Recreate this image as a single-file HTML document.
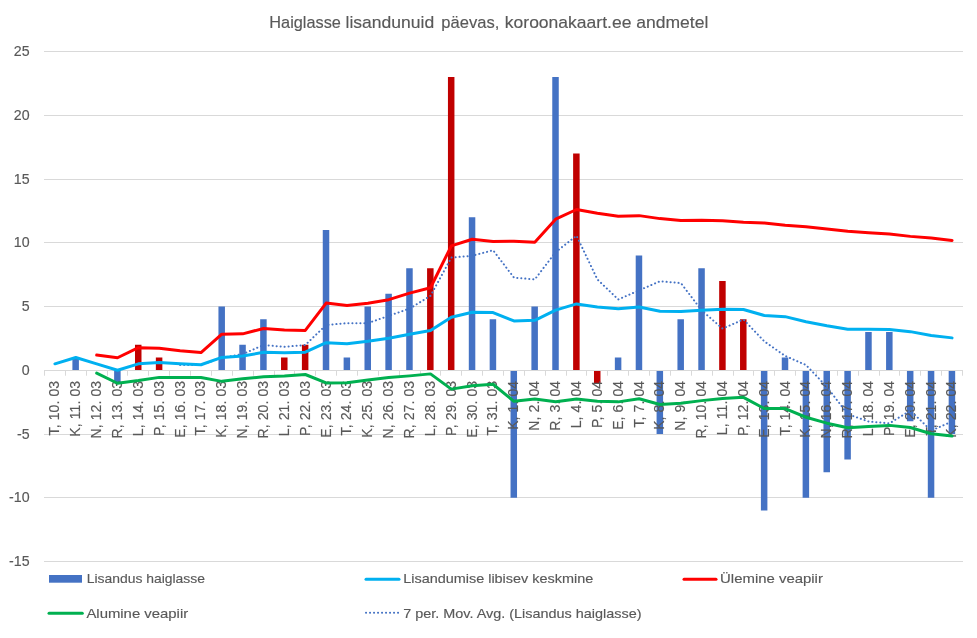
<!DOCTYPE html>
<html lang="et"><head><meta charset="utf-8"><title>Haiglasse lisandunuid päevas</title>
<style>html,body{margin:0;padding:0;background:#fff}body{width:977px;height:638px;overflow:hidden}</style></head>
<body>
<svg width="977" height="638" viewBox="0 0 977 638" style="display:block">
<rect x="0" y="0" width="977" height="638" fill="#ffffff"/>
<g fill="#D9D9D9">
<rect x="44" y="51" width="919" height="1"/>
<rect x="44" y="115" width="919" height="1"/>
<rect x="44" y="179" width="919" height="1"/>
<rect x="44" y="242" width="919" height="1"/>
<rect x="44" y="306" width="919" height="1"/>
<rect x="44" y="434" width="919" height="1"/>
<rect x="44" y="497" width="919" height="1"/>
<rect x="44" y="561" width="919" height="1"/>
</g>
<g>
<rect x="72.40" y="357.50" width="6.5" height="12.50" fill="#4472C4"/>
<rect x="114.12" y="371.00" width="6.5" height="12.00" fill="#4472C4"/>
<rect x="134.99" y="344.75" width="6.5" height="25.25" fill="#C00000"/>
<rect x="155.85" y="357.50" width="6.5" height="12.50" fill="#C00000"/>
<rect x="218.44" y="306.50" width="6.5" height="63.50" fill="#4472C4"/>
<rect x="239.30" y="344.75" width="6.5" height="25.25" fill="#4472C4"/>
<rect x="260.17" y="319.25" width="6.5" height="50.75" fill="#4472C4"/>
<rect x="281.03" y="357.50" width="6.5" height="12.50" fill="#C00000"/>
<rect x="301.90" y="344.75" width="6.5" height="25.25" fill="#C00000"/>
<rect x="322.76" y="230.00" width="6.5" height="140.00" fill="#4472C4"/>
<rect x="343.62" y="357.50" width="6.5" height="12.50" fill="#4472C4"/>
<rect x="364.49" y="306.50" width="6.5" height="63.50" fill="#4472C4"/>
<rect x="385.35" y="293.75" width="6.5" height="76.25" fill="#4472C4"/>
<rect x="406.21" y="268.25" width="6.5" height="101.75" fill="#4472C4"/>
<rect x="427.08" y="268.25" width="6.5" height="101.75" fill="#C00000"/>
<rect x="447.94" y="77.00" width="6.5" height="293.00" fill="#C00000"/>
<rect x="468.80" y="217.25" width="6.5" height="152.75" fill="#4472C4"/>
<rect x="489.67" y="319.25" width="6.5" height="50.75" fill="#4472C4"/>
<rect x="510.53" y="371.00" width="6.5" height="126.75" fill="#4472C4"/>
<rect x="531.40" y="306.50" width="6.5" height="63.50" fill="#4472C4"/>
<rect x="552.26" y="77.00" width="6.5" height="293.00" fill="#4472C4"/>
<rect x="573.12" y="153.50" width="6.5" height="216.50" fill="#C00000"/>
<rect x="593.99" y="371.00" width="6.5" height="12.00" fill="#C00000"/>
<rect x="614.85" y="357.50" width="6.5" height="12.50" fill="#4472C4"/>
<rect x="635.71" y="255.50" width="6.5" height="114.50" fill="#4472C4"/>
<rect x="656.58" y="371.00" width="6.5" height="63.00" fill="#4472C4"/>
<rect x="677.44" y="319.25" width="6.5" height="50.75" fill="#4472C4"/>
<rect x="698.30" y="268.25" width="6.5" height="101.75" fill="#4472C4"/>
<rect x="719.17" y="281.00" width="6.5" height="89.00" fill="#C00000"/>
<rect x="740.03" y="319.25" width="6.5" height="50.75" fill="#C00000"/>
<rect x="760.90" y="371.00" width="6.5" height="139.50" fill="#4472C4"/>
<rect x="781.76" y="357.50" width="6.5" height="12.50" fill="#4472C4"/>
<rect x="802.62" y="371.00" width="6.5" height="126.75" fill="#4472C4"/>
<rect x="823.49" y="371.00" width="6.5" height="101.25" fill="#4472C4"/>
<rect x="844.35" y="371.00" width="6.5" height="88.50" fill="#4472C4"/>
<rect x="865.21" y="332.00" width="6.5" height="38.00" fill="#4472C4"/>
<rect x="886.08" y="332.00" width="6.5" height="38.00" fill="#4472C4"/>
<rect x="906.94" y="371.00" width="6.5" height="50.25" fill="#4472C4"/>
<rect x="927.80" y="371.00" width="6.5" height="126.75" fill="#4472C4"/>
<rect x="948.67" y="371.00" width="6.5" height="63.00" fill="#4472C4"/>
</g>
<g fill="#D9D9D9">
<rect x="44" y="370" width="919" height="1"/>
<rect x="44" y="370" width="1" height="5.7"/>
<rect x="65" y="370" width="1" height="5.7"/>
<rect x="86" y="370" width="1" height="5.7"/>
<rect x="107" y="370" width="1" height="5.7"/>
<rect x="127" y="370" width="1" height="5.7"/>
<rect x="148" y="370" width="1" height="5.7"/>
<rect x="169" y="370" width="1" height="5.7"/>
<rect x="190" y="370" width="1" height="5.7"/>
<rect x="211" y="370" width="1" height="5.7"/>
<rect x="232" y="370" width="1" height="5.7"/>
<rect x="253" y="370" width="1" height="5.7"/>
<rect x="274" y="370" width="1" height="5.7"/>
<rect x="294" y="370" width="1" height="5.7"/>
<rect x="315" y="370" width="1" height="5.7"/>
<rect x="336" y="370" width="1" height="5.7"/>
<rect x="357" y="370" width="1" height="5.7"/>
<rect x="378" y="370" width="1" height="5.7"/>
<rect x="399" y="370" width="1" height="5.7"/>
<rect x="420" y="370" width="1" height="5.7"/>
<rect x="440" y="370" width="1" height="5.7"/>
<rect x="461" y="370" width="1" height="5.7"/>
<rect x="482" y="370" width="1" height="5.7"/>
<rect x="503" y="370" width="1" height="5.7"/>
<rect x="524" y="370" width="1" height="5.7"/>
<rect x="545" y="370" width="1" height="5.7"/>
<rect x="566" y="370" width="1" height="5.7"/>
<rect x="586" y="370" width="1" height="5.7"/>
<rect x="607" y="370" width="1" height="5.7"/>
<rect x="628" y="370" width="1" height="5.7"/>
<rect x="649" y="370" width="1" height="5.7"/>
<rect x="670" y="370" width="1" height="5.7"/>
<rect x="691" y="370" width="1" height="5.7"/>
<rect x="712" y="370" width="1" height="5.7"/>
<rect x="733" y="370" width="1" height="5.7"/>
<rect x="753" y="370" width="1" height="5.7"/>
<rect x="774" y="370" width="1" height="5.7"/>
<rect x="795" y="370" width="1" height="5.7"/>
<rect x="816" y="370" width="1" height="5.7"/>
<rect x="837" y="370" width="1" height="5.7"/>
<rect x="858" y="370" width="1" height="5.7"/>
<rect x="879" y="370" width="1" height="5.7"/>
<rect x="899" y="370" width="1" height="5.7"/>
<rect x="920" y="370" width="1" height="5.7"/>
<rect x="941" y="370" width="1" height="5.7"/>
<rect x="962" y="370" width="1" height="5.7"/>
</g>
<g font-family="Liberation Sans, sans-serif" font-size="14.2" fill="#595959" stroke="#595959" stroke-width="0.15" text-anchor="end">
<text x="29.6" y="56.3">25</text>
<text x="29.6" y="120.3">20</text>
<text x="29.6" y="184.3">15</text>
<text x="29.6" y="247.3">10</text>
<text x="29.6" y="311.3">5</text>
<text x="29.6" y="375.3">0</text>
<text x="29.6" y="439.3">-5</text>
<text x="29.6" y="502.3">-10</text>
<text x="29.6" y="566.3">-15</text>
</g>
<g font-family="Liberation Sans, sans-serif" font-size="14" fill="#595959" stroke="#595959" stroke-width="0.15" text-anchor="end" letter-spacing="0.1">
<text transform="translate(59.33 380.8) rotate(-90)">T, 10. 03</text>
<text transform="translate(80.20 380.8) rotate(-90)">K, 11. 03</text>
<text transform="translate(101.06 380.8) rotate(-90)">N, 12. 03</text>
<text transform="translate(121.92 380.8) rotate(-90)">R, 13. 03</text>
<text transform="translate(142.79 380.8) rotate(-90)">L, 14. 03</text>
<text transform="translate(163.65 380.8) rotate(-90)">P, 15. 03</text>
<text transform="translate(184.51 380.8) rotate(-90)">E, 16. 03</text>
<text transform="translate(205.38 380.8) rotate(-90)">T, 17. 03</text>
<text transform="translate(226.24 380.8) rotate(-90)">K, 18. 03</text>
<text transform="translate(247.10 380.8) rotate(-90)">N, 19. 03</text>
<text transform="translate(267.97 380.8) rotate(-90)">R, 20. 03</text>
<text transform="translate(288.83 380.8) rotate(-90)">L, 21. 03</text>
<text transform="translate(309.70 380.8) rotate(-90)">P, 22. 03</text>
<text transform="translate(330.56 380.8) rotate(-90)">E, 23. 03</text>
<text transform="translate(351.42 380.8) rotate(-90)">T, 24. 03</text>
<text transform="translate(372.29 380.8) rotate(-90)">K, 25. 03</text>
<text transform="translate(393.15 380.8) rotate(-90)">N, 26. 03</text>
<text transform="translate(414.01 380.8) rotate(-90)">R, 27. 03</text>
<text transform="translate(434.88 380.8) rotate(-90)">L, 28. 03</text>
<text transform="translate(455.74 380.8) rotate(-90)">P, 29. 03</text>
<text transform="translate(476.60 380.8) rotate(-90)">E, 30. 03</text>
<text transform="translate(497.47 380.8) rotate(-90)">T, 31. 03</text>
<text transform="translate(518.33 380.8) rotate(-90)">K, 1. 04</text>
<text transform="translate(539.20 380.8) rotate(-90)">N, 2. 04</text>
<text transform="translate(560.06 380.8) rotate(-90)">R, 3. 04</text>
<text transform="translate(580.92 380.8) rotate(-90)">L, 4. 04</text>
<text transform="translate(601.79 380.8) rotate(-90)">P, 5. 04</text>
<text transform="translate(622.65 380.8) rotate(-90)">E, 6. 04</text>
<text transform="translate(643.51 380.8) rotate(-90)">T, 7. 04</text>
<text transform="translate(664.38 380.8) rotate(-90)">K, 8. 04</text>
<text transform="translate(685.24 380.8) rotate(-90)">N, 9. 04</text>
<text transform="translate(706.10 380.8) rotate(-90)">R, 10. 04</text>
<text transform="translate(726.97 380.8) rotate(-90)">L, 11. 04</text>
<text transform="translate(747.83 380.8) rotate(-90)">P, 12. 04</text>
<text transform="translate(768.70 380.8) rotate(-90)">E, 13. 04</text>
<text transform="translate(789.56 380.8) rotate(-90)">T, 14. 04</text>
<text transform="translate(810.42 380.8) rotate(-90)">K, 15. 04</text>
<text transform="translate(831.29 380.8) rotate(-90)">N, 16. 04</text>
<text transform="translate(852.15 380.8) rotate(-90)">R, 17. 04</text>
<text transform="translate(873.01 380.8) rotate(-90)">L, 18. 04</text>
<text transform="translate(893.88 380.8) rotate(-90)">P, 19. 04</text>
<text transform="translate(914.74 380.8) rotate(-90)">E, 20. 04</text>
<text transform="translate(935.60 380.8) rotate(-90)">T, 21. 04</text>
<text transform="translate(956.47 380.8) rotate(-90)">K, 22. 04</text>
</g>
<g fill="none" stroke-linecap="round" stroke-linejoin="round">
<path d="M180.11 365.04 L200.98 365.04 L221.84 357.75 L242.70 354.11 L263.57 345.00 L284.43 346.82 L305.30 345.00 L326.16 324.96 L347.02 323.14 L367.89 323.14 L388.75 315.86 L409.61 308.57 L430.48 295.82 L451.34 257.57 L472.20 255.75 L493.07 250.29 L513.93 277.61 L534.80 279.43 L555.66 252.11 L576.52 235.71 L597.39 279.43 L618.25 299.46 L639.11 290.36 L659.98 281.25 L680.84 283.07 L701.70 310.39 L722.57 328.61 L743.43 319.50 L764.30 341.36 L785.16 355.93 L806.02 365.04 L826.89 386.89 L847.75 414.21 L868.61 421.50 L889.48 423.32 L910.34 410.57 L931.20 430.61 L952.07 421.50" stroke="#4472C4" stroke-width="2" stroke-dasharray="0.1 3.9"/>
<path d="M54.93 364.12 L75.80 357.75 L96.66 364.12 L117.52 370.50 L138.39 364.12 L159.25 362.85 L180.11 364.12 L200.98 365.04 L221.84 357.75 L242.70 356.33 L263.57 352.65 L284.43 353.11 L305.30 352.44 L326.16 343.04 L347.02 344.09 L367.89 341.60 L388.75 338.62 L409.61 334.50 L430.48 330.83 L451.34 317.49 L472.20 312.49 L493.07 312.82 L513.93 321.24 L534.80 320.61 L555.66 310.47 L576.52 304.20 L597.39 307.24 L618.25 309.11 L639.11 307.21 L659.98 311.59 L680.84 311.85 L701.70 310.45 L722.57 309.54 L743.43 309.84 L764.30 315.75 L785.16 316.95 L806.02 321.98 L826.89 326.05 L847.75 329.57 L868.61 329.63 L889.48 329.70 L910.34 331.94 L931.20 335.89 L952.07 338.18" stroke="#00B0F0" stroke-width="3" transform="translate(0 -0.3)"/>
<path d="M96.66 355.11 L117.52 357.75 L138.39 347.66 L159.25 348.31 L180.11 350.75 L200.98 352.59 L221.84 334.14 L242.70 333.84 L263.57 328.46 L284.43 330.11 L305.30 330.38 L326.16 303.11 L347.02 305.53 L367.89 303.21 L388.75 299.67 L409.61 293.13 L430.48 287.79 L451.34 245.83 L472.20 239.25 L493.07 241.42 L513.93 241.15 L534.80 242.30 L555.66 219.18 L576.52 209.50 L597.39 213.17 L618.25 216.35 L639.11 215.63 L659.98 218.61 L680.84 220.48 L701.70 220.28 L722.57 220.69 L743.43 222.37 L764.30 222.98 L785.16 225.28 L806.02 226.72 L826.89 228.92 L847.75 231.33 L868.61 232.70 L889.48 234.02 L910.34 236.38 L931.20 238.09 L952.07 240.39" stroke="#FF0000" stroke-width="3"/>
<path d="M96.66 373.14 L117.52 383.25 L138.39 380.59 L159.25 377.39 L180.11 377.50 L200.98 377.48 L221.84 381.36 L242.70 378.82 L263.57 376.84 L284.43 376.12 L305.30 374.49 L326.16 382.97 L347.02 382.65 L367.89 379.99 L388.75 377.58 L409.61 375.87 L430.48 373.88 L451.34 389.14 L472.20 385.73 L493.07 384.22 L513.93 401.33 L534.80 398.91 L555.66 401.75 L576.52 398.90 L597.39 401.31 L618.25 401.87 L639.11 398.78 L659.98 404.56 L680.84 403.22 L701.70 400.62 L722.57 398.39 L743.43 397.31 L764.30 408.52 L785.16 408.62 L806.02 417.24 L826.89 423.18 L847.75 427.80 L868.61 426.57 L889.48 425.38 L910.34 427.50 L931.20 433.70 L952.07 435.97" stroke="#00B050" stroke-width="3"/>
</g>
<text font-family="Liberation Sans, sans-serif" font-size="17" fill="#595959" stroke="#595959" stroke-width="0.15" y="28.3"><tspan x="269.30" textLength="71.60" lengthAdjust="spacingAndGlyphs">Haiglasse</tspan> <tspan x="345.50" textLength="88.70" lengthAdjust="spacingAndGlyphs">lisandunuid</tspan> <tspan x="441.30" textLength="58.00" lengthAdjust="spacingAndGlyphs">päevas,</tspan> <tspan x="504.80" textLength="126.60" lengthAdjust="spacingAndGlyphs">koroonakaart.ee</tspan> <tspan x="636.20" textLength="72.10" lengthAdjust="spacingAndGlyphs">andmetel</tspan></text>
<rect x="49" y="575" width="33" height="7.7" fill="#4472C4"/>
<g fill="none" stroke-linecap="round" stroke-width="3">
<path d="M366 579.3 H399" stroke="#00B0F0"/>
<path d="M684 579.3 H716" stroke="#FF0000"/>
<path d="M49 613.2 H82.3" stroke="#00B050"/>
<path d="M366 612.8 H400" stroke="#4472C4" stroke-width="2" stroke-dasharray="0.1 3.9"/>
</g>
<g font-family="Liberation Sans, sans-serif" font-size="13.6" fill="#595959" stroke="#595959" stroke-width="0.15" lengthAdjust="spacingAndGlyphs">
<text x="86.7" y="582.9" textLength="118.3" lengthAdjust="spacingAndGlyphs">Lisandus haiglasse</text>
<text x="403.2" y="582.9" textLength="190" lengthAdjust="spacingAndGlyphs">Lisandumise libisev keskmine</text>
<text x="720.1" y="582.9" textLength="102.8" lengthAdjust="spacingAndGlyphs">Ülemine veapiir</text>
<text x="86.4" y="617.6" textLength="101.8" lengthAdjust="spacingAndGlyphs">Alumine veapiir</text>
<text x="403.2" y="617.6" textLength="238.3" lengthAdjust="spacingAndGlyphs">7 per. Mov. Avg. (Lisandus haiglasse)</text>
</g>
</svg>
</body></html>
